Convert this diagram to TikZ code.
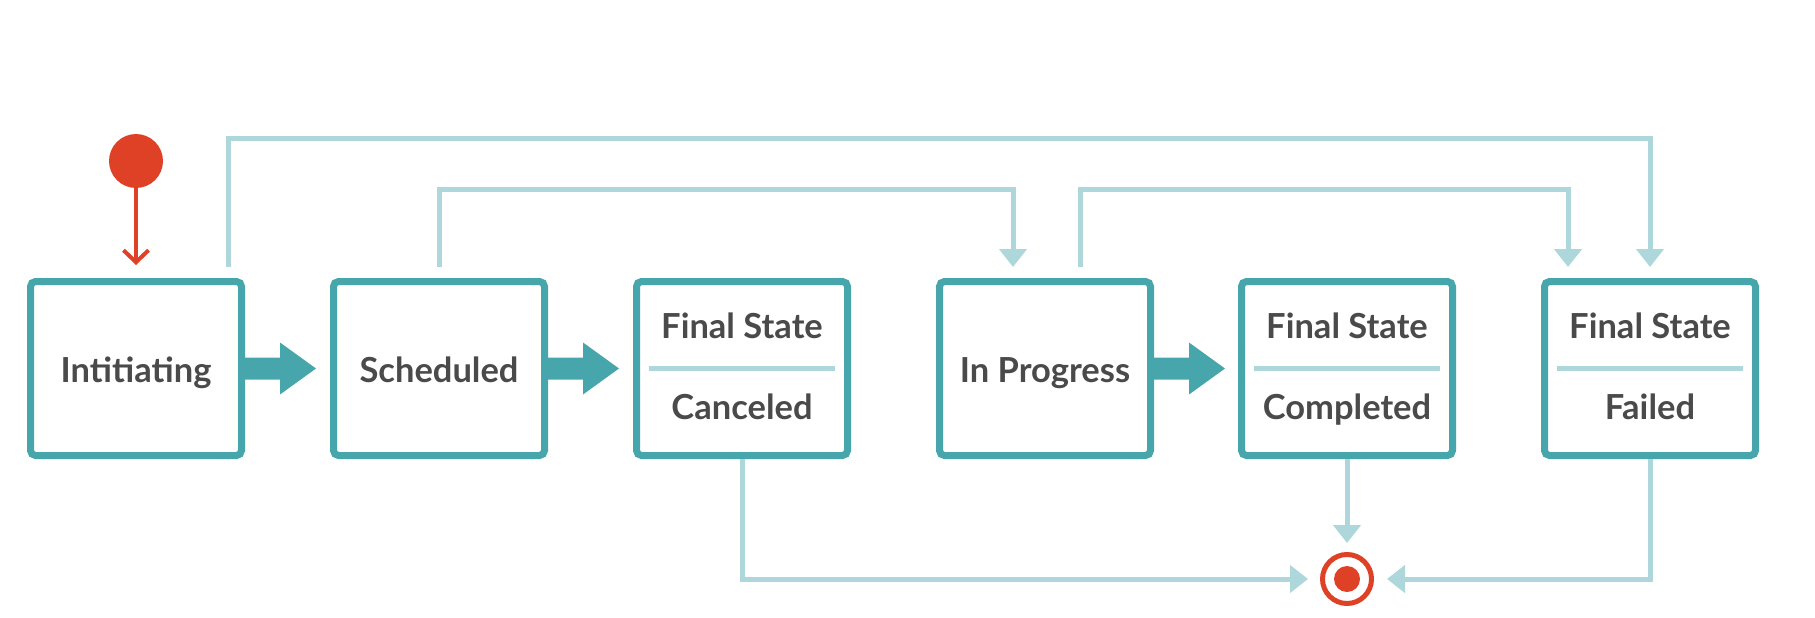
\documentclass[tikz,border=0pt]{standalone}
\usepackage{fontspec}
\setmainfont{Lato}
\usetikzlibrary{arrows.meta, calc, positioning}
\definecolor{stateteal}{RGB}{71,166,171}
\definecolor{flowteal}{RGB}{173,215,219}
\definecolor{markred}{RGB}{222,65,38}
\definecolor{textgray}{RGB}{74,74,74}

\begin{document}
\begin{tikzpicture}[x=1pt, y=1pt,
    every node/.style={font=\fontsize{34.5}{40}\selectfont\bfseries, text=textgray},
    state/.style={rectangle, rounded corners=5pt, draw=stateteal, fill=white, line width=7pt, minimum width=211pt, minimum height=174pt, inner sep=0pt, text height=27pt, text depth=0pt},
    flow/.style={draw=flowteal, line width=5pt, -{Triangle[length=18pt, width=27pt]}, shorten <=11pt, shorten >=11pt},
    divider/.style={draw=flowteal, line width=5pt},
    fat/.style={fill=stateteal},
    startdot/.style={circle, fill=markred, minimum size=54pt, inner sep=0pt},
    enddot/.style={circle, draw=markred, line width=5pt, minimum size=49pt, inner sep=0pt}
]
\useasboundingbox (0,0) rectangle (1815,-618);

% States
\node[state] (init) at (136,-368.5) {Intitiating};
\node[state] (sched) at (439,-368.5) {Scheduled};
\node[state] (cancel) at (742,-368.5) {};
\node[state] (prog) at (1045,-368.5) {In Progress};
\node[state] (done) at (1347,-368.5) {};
\node[state] (fail) at (1650,-368.5) {};

% Final state labels
\node[anchor=base] (cancelhead) at ($(cancel.center)+(0,30.5)$) {Final State};
\node[anchor=base] (cancellbl) at ($(cancel.center)+(0,-50.5)$) {Canceled};
\node[anchor=base] (donehead) at ($(done.center)+(0,30.5)$) {Final State};
\node[anchor=base] (donelbl) at ($(done.center)+(0,-50.5)$) {Completed};
\node[anchor=base] (failhead) at ($(fail.center)+(0,30.5)$) {Final State};
\node[anchor=base] (faillbl) at ($(fail.center)+(0,-50.5)$) {Failed};
\foreach \s in {cancel, done, fail}
  \draw[divider] ($(\s.center)+(-93,0)$) -- ($(\s.center)+(93,0)$);

% Start and end markers
\node[startdot] (start) at (136,-161) {};
\node[enddot] (finish) at (1347,-579) {};
\fill[markred] (finish.center) circle (13);
\draw[markred, line width=4pt, -{Straight Barb[length=12pt, width=25pt]}, shorten >=13pt] (start) -- (init);

% Main transitions
\foreach \from in {init, sched, prog}
  \fill[fat] (\from.east) ++(0,11) -- ++(35,0) -- ++(0,15) -- ++(36,-26) -- ++(-36,-26) -- ++(0,15) -- ++(-35,0) -- cycle;

% Other transitions
\draw[flow] ([xshift=92pt]init.north) -- ++(0,140) -| (fail.north);
\draw[flow] (sched.north) -- ++(0,89) -| ([xshift=-32pt]prog.north);
\draw[flow] ([xshift=35pt]prog.north) -- ++(0,89) -| ([xshift=-82pt]fail.north);
\draw[flow, shorten <=0pt, shorten >=12pt] (cancel.south) |- (finish.west);
\draw[flow, shorten <=0pt, shorten >=9pt] (done.south) -- (finish.north);
\draw[flow, shorten <=0pt, shorten >=13pt] (fail.south) |- (finish.east);
\end{tikzpicture}
\end{document}
